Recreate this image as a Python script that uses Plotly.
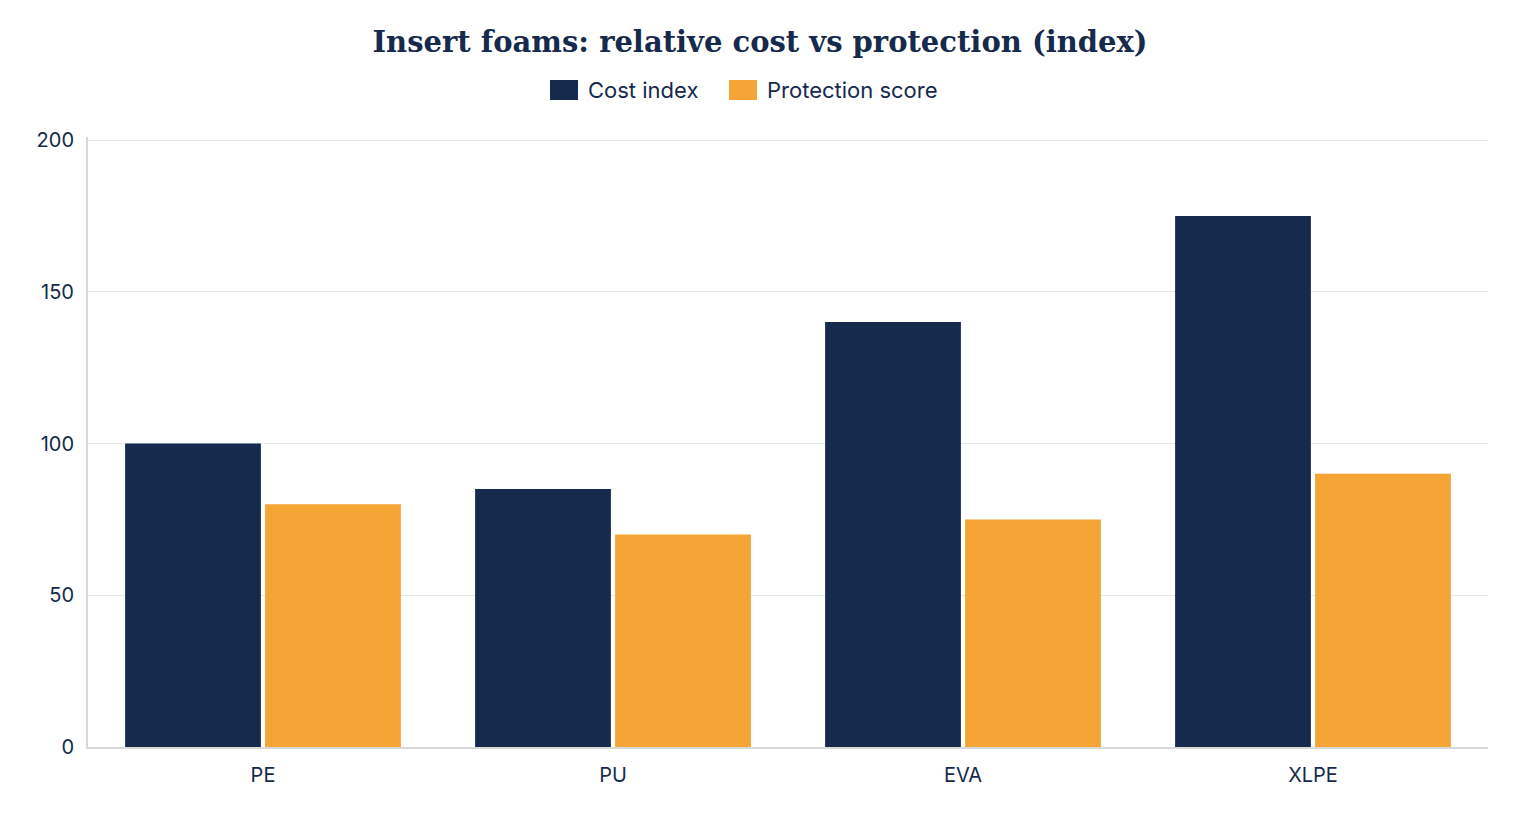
import plotly.graph_objects as go

categories = ["PE", "PU", "EVA", "XLPE"]
cost_index = [100, 85, 140, 175]
protection_score = [80, 70, 75, 90]
y_ticks = [0, 50, 100, 150, 200]
series_names = ["Cost index", "Protection score"]

NAVY = "#152A4D"
ORANGE = "#F5A535"
colors = [NAVY, ORANGE]

L, R, T, B = 88, 32, 137, 93
W, H = 1520, 840
PW, PH = W - L - R, H - T - B

def px_x(px):
    return (px - L) / PW

def px_y(py):
    return (H - B - py) / PH

fig = go.Figure()
for name, vals, col in zip(series_names, [cost_index, protection_score], colors):
    fig.add_trace(go.Bar(x=categories, y=vals, name=name, marker_color=col,
                         marker_line_width=0, showlegend=False))

# custom legend (larger rectangular swatches)
legend_items = [(550, 586), (729, 765)]
for (sx, tx), name, col in zip(legend_items, series_names, colors):
    fig.add_shape(type="rect", xref="paper", yref="paper",
                  x0=px_x(sx), x1=px_x(sx + 28), y0=px_y(100), y1=px_y(80),
                  fillcolor=col, line_width=0)
    fig.add_annotation(xref="paper", yref="paper", x=px_x(tx), y=px_y(90),
                       xanchor="left", yanchor="middle", showarrow=False,
                       text=name, font=dict(size=22, color=NAVY))

fig.update_layout(
    width=W, height=H,
    margin=dict(l=L, r=R, t=T, b=B),
    paper_bgcolor="white", plot_bgcolor="white",
    barmode="group", bargap=0.2, bargroupgap=0.03,
    font=dict(family="Inter, Roboto, sans-serif", color=NAVY, size=20),
    title=dict(text="<b>Insert foams: relative cost vs protection (index)</b>",
               x=0.5, xref="container", xanchor="center", y=1 - 42 / H, yref="container", yanchor="middle",
               font=dict(family="'DejaVu Serif', Georgia, serif", size=29, color=NAVY)),
    showlegend=False,
)
fig.update_yaxes(range=[0, 201], tickvals=y_ticks, showgrid=True, gridcolor="#E8E8E8", gridwidth=1,
                 showline=True, linecolor="#D9D9D9", linewidth=2, zeroline=False,
                 ticks="", ticklabelstandoff=8, tickfont=dict(size=20))
fig.update_xaxes(showline=True, linecolor="#D9D9D9", linewidth=2, ticks="",
                 ticklabelstandoff=9, tickfont=dict(size=20))

fig.write_html("out.html")
